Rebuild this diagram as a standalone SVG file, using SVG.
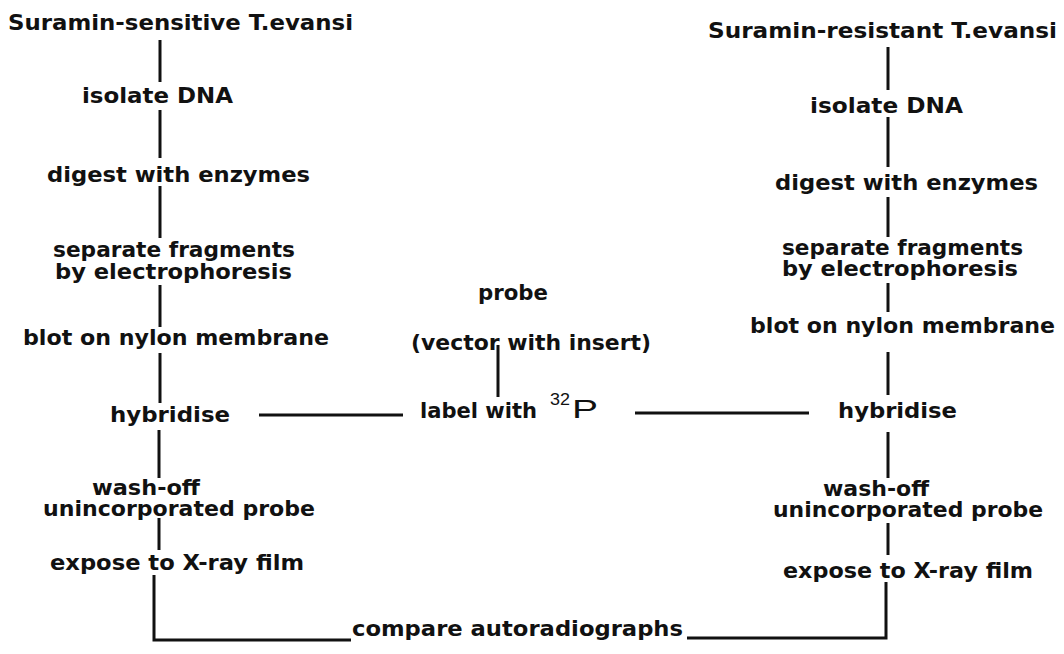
<svg xmlns="http://www.w3.org/2000/svg" width="1064" height="654" viewBox="0 0 1064 654">
  <style>
    .t { font-family: "DejaVu Sans", "Liberation Sans", Arial, sans-serif; font-weight: bold; font-size: 21px; fill: #111; }
    .m { font-family: "DejaVu Sans Condensed", "DejaVu Sans", "Liberation Sans", sans-serif; font-weight: bold; font-size: 22px; fill: #111; }
    .r { font-family: "Liberation Sans", Arial, sans-serif; font-weight: normal; fill: #111; }
    .ln { stroke: #111; stroke-width: 3; fill: none; stroke-linecap: butt; }
  </style>
  <rect width="1064" height="654" fill="#fff"/>

  <!-- connectors -->
  <g id="connectors">
    <!-- left column -->
    <line class="ln" x1="160" y1="40" x2="160" y2="82"/>
    <line class="ln" x1="160" y1="110" x2="160" y2="158"/>
    <line class="ln" x1="160" y1="186" x2="160" y2="238"/>
    <line class="ln" x1="160" y1="285" x2="160" y2="327"/>
    <line class="ln" x1="160" y1="353" x2="160" y2="403"/>
    <line class="ln" x1="159" y1="430" x2="159" y2="478"/>
    <line class="ln" x1="159" y1="518" x2="159" y2="550"/>
    <polyline class="ln" points="154,575 154,640 351,640"/>
    <!-- right column -->
    <line class="ln" x1="888" y1="47" x2="888" y2="90"/>
    <line class="ln" x1="888" y1="117" x2="888" y2="167"/>
    <line class="ln" x1="888" y1="197" x2="888" y2="237"/>
    <line class="ln" x1="888" y1="283" x2="888" y2="312"/>
    <line class="ln" x1="888" y1="352" x2="888" y2="395"/>
    <line class="ln" x1="888" y1="432" x2="888" y2="478"/>
    <line class="ln" x1="888" y1="523" x2="888" y2="555"/>
    <polyline class="ln" points="886,582 886,638 687,638"/>
    <!-- probe branch -->
    <line class="ln" x1="498" y1="345" x2="498" y2="397"/>
    <line class="ln" x1="259" y1="415" x2="403" y2="415"/>
    <line class="ln" x1="635" y1="413" x2="809" y2="413"/>
  </g>

  <!-- left column: suramin-sensitive -->
  <g id="left-title"><text class="t" x="8" y="30" textLength="345" lengthAdjust="spacingAndGlyphs">Suramin-sensitive T.evansi</text></g>
  <g id="left-isolate"><text class="t" x="82" y="103" textLength="151" lengthAdjust="spacingAndGlyphs">isolate DNA</text></g>
  <g id="left-digest"><text class="t" x="47" y="182" textLength="263" lengthAdjust="spacingAndGlyphs">digest with enzymes</text></g>
  <g id="left-separate">
    <text class="t" x="53" y="257" textLength="242" lengthAdjust="spacingAndGlyphs">separate fragments</text>
    <text class="t" x="55" y="279" textLength="237" lengthAdjust="spacingAndGlyphs">by electrophoresis</text>
  </g>
  <g id="left-blot"><text class="t" x="23" y="345" textLength="306" lengthAdjust="spacingAndGlyphs">blot on nylon membrane</text></g>
  <g id="left-hybridise"><text class="t" x="110" y="422" textLength="120" lengthAdjust="spacingAndGlyphs">hybridise</text></g>
  <g id="left-wash">
    <text class="t" x="92" y="495" textLength="108" lengthAdjust="spacingAndGlyphs">wash-off</text>
    <text class="t" x="43" y="516" textLength="272" lengthAdjust="spacingAndGlyphs">unincorporated probe</text>
  </g>
  <g id="left-expose"><text class="t" x="50" y="570" textLength="254" lengthAdjust="spacingAndGlyphs">expose to X-ray film</text></g>

  <!-- right column: suramin-resistant -->
  <g id="right-title"><text class="t" x="708" y="38" textLength="349" lengthAdjust="spacingAndGlyphs">Suramin-resistant T.evansi</text></g>
  <g id="right-isolate"><text class="t" x="810" y="113" textLength="153" lengthAdjust="spacingAndGlyphs">isolate DNA</text></g>
  <g id="right-digest"><text class="t" x="775" y="190" textLength="263" lengthAdjust="spacingAndGlyphs">digest with enzymes</text></g>
  <g id="right-separate">
    <text class="t" x="782" y="255" textLength="241" lengthAdjust="spacingAndGlyphs">separate fragments</text>
    <text class="t" x="782" y="276" textLength="236" lengthAdjust="spacingAndGlyphs">by electrophoresis</text>
  </g>
  <g id="right-blot"><text class="t" x="750" y="333" textLength="305" lengthAdjust="spacingAndGlyphs">blot on nylon membrane</text></g>
  <g id="right-hybridise"><text class="t" x="838" y="418" textLength="119" lengthAdjust="spacingAndGlyphs">hybridise</text></g>
  <g id="right-wash">
    <text class="t" x="823" y="496" textLength="106" lengthAdjust="spacingAndGlyphs">wash-off</text>
    <text class="t" x="773" y="517" textLength="270" lengthAdjust="spacingAndGlyphs">unincorporated probe</text>
  </g>
  <g id="right-expose"><text class="t" x="783" y="578" textLength="250" lengthAdjust="spacingAndGlyphs">expose to X-ray film</text></g>

  <!-- probe preparation -->
  <g id="probe">
    <text class="m" x="478" y="300" textLength="70" lengthAdjust="spacingAndGlyphs">probe</text>
    <text class="m" x="411" y="350" textLength="240" lengthAdjust="spacingAndGlyphs">(vector with insert)</text>
  </g>
  <g id="label">
    <text class="m" x="420" y="418" textLength="117" lengthAdjust="spacingAndGlyphs">label with</text>
    <text class="r" x="550" y="405" font-size="17" textLength="20" lengthAdjust="spacingAndGlyphs">32</text>
    <text class="r" x="572" y="418" font-size="26" textLength="26" lengthAdjust="spacingAndGlyphs">P</text>
  </g>

  <!-- final comparison -->
  <g id="compare"><text class="t" x="352" y="636" textLength="331" lengthAdjust="spacingAndGlyphs">compare autoradiographs</text></g>
</svg>
